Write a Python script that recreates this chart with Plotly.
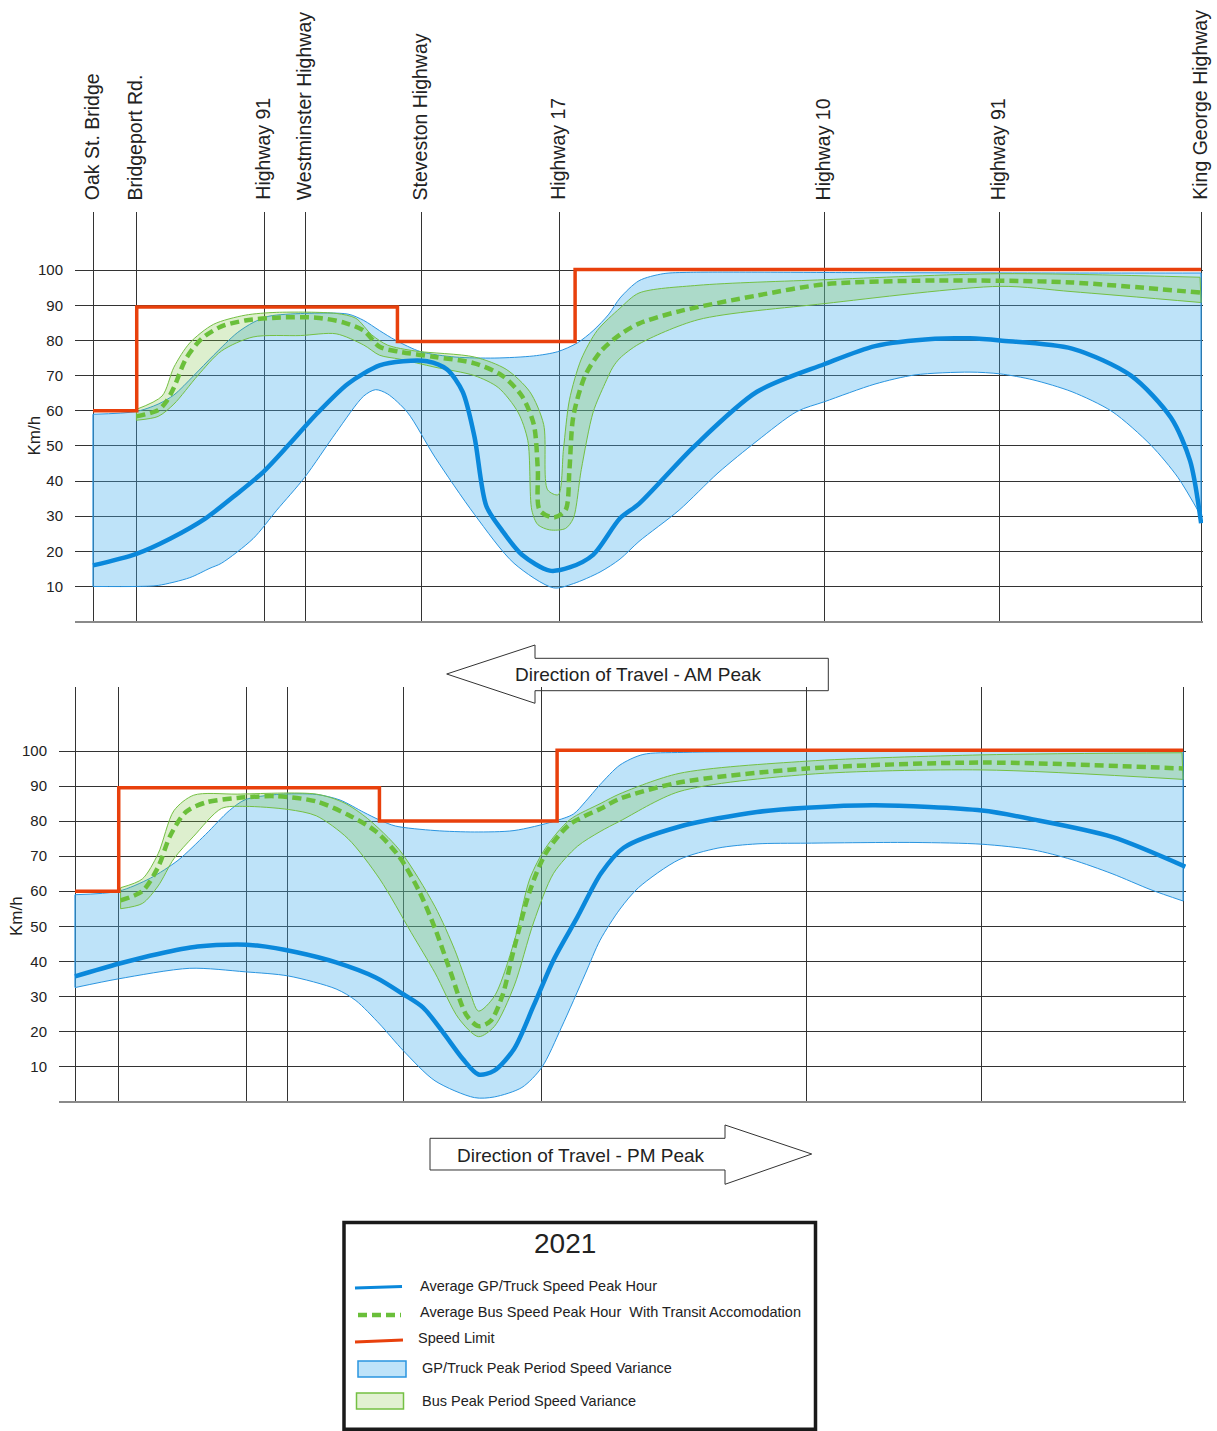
import plotly.graph_objects as go

# ---------------- data ----------------
landmarks = ["Oak St. Bridge", "Bridgeport Rd.", "Highway 91", "Westminster Highway",
             "Steveston Highway", "Highway 17", "Highway 10", "Highway 91", "King George Highway"]
landmark_pos = [0, 3.95, 15.45, 19.2, 29.65, 42.1, 66.1, 81.9, 100.1]

speed_limit_x = [0, 3.95, 27.5, 43.55, 100.1]
am_speed_limit = [60, 89.5, 79.7, 100.2, 100.2]
pm_speed_limit = [60, 89.5, 80, 100.2, 100.2]

# AM peak
am_gp_var_upper_x = [0, 3.92, 5.89, 7.31, 9.10, 10.89, 13.03, 14.46, 15.89, 19.11, 23.04, 24.46, 25.89,
                     27.32, 29.61, 32.7, 36.3, 39.8, 41.96, 43.75, 45.18, 46.60, 47.61, 49.32, 51.5, 54,
                     70, 90, 100.1]
am_gp_var_upper = [59, 59.8, 61.9, 64.5, 70, 75.8, 82.2, 85.1, 86.9, 87.7, 87.5, 85.7, 82.8,
                   80.1, 76.8, 75.3, 75, 75.6, 76.8, 79.3, 82.8, 87.5, 92.1, 97, 99, 99.4,
                   99.3, 99.2, 99.2]
am_gp_var_lower_x = [0, 3.92, 5.89, 8.74, 10.57, 11.60, 14.46, 16.60, 19.11, 21.96, 24.46, 25.53, 26.60,
                     28.39, 30.89, 34.46, 38.03, 41.61, 43.39, 45.8, 47.61, 49.32, 52.94, 56.46, 59.98,
                     63.60, 66.1, 70.64, 74.25, 79.22, 81.93, 84.91, 88.44, 92.05, 95.57, 98.01, 100.1]
am_gp_var_lower = [10, 10, 10.3, 12.5, 15.2, 16.6, 23.6, 31.7, 41, 53.8, 64.2, 66, 64.8,
                   59.6, 46.8, 30.5, 16.6, 9.6, 10.8, 14.1, 17.8, 22.8, 31.7, 42.3, 51.4,
                   59.8, 62.6, 67.6, 70.2, 71, 70.5, 68.8, 65.4, 59.8, 50.2, 41, 30]
am_gp_avg_x = [0, 3.92, 6.96, 10.17, 13.03, 15.42, 17.68, 20.17, 23.04, 25.89, 28.03, 30.17, 31.96,
               33.39, 34.46, 35.53, 36.96, 38.75, 41.25, 43.04, 45.18, 47.61, 49.32, 54.29, 59.98,
               66.1, 70.64, 76.06, 79.22, 81.93, 88.44, 93.77, 97.38, 99.1, 100.1]
am_gp_avg = [16, 19.3, 23.6, 29.4, 36.4, 42.7, 50.3, 59, 67.7, 72.9, 74.1, 74.1, 71.8,
             65.4, 52.6, 32.9, 25.9, 19, 14.5, 15.4, 19, 29.4, 33.5, 49.8, 65.4,
             73.3, 78.4, 80.5, 80.6, 80, 77.7, 70, 58, 45.8, 28]
am_bus_avg_x = [3.92, 5.89, 6.6, 7.31, 8.38, 9.81, 11.60, 13.75, 16.60, 20.17, 22.67, 24.46, 25.89,
                27.68, 30.89, 34.46, 36.96, 38.75, 39.82, 40.18, 40.35, 41.61, 42.68, 43.04, 43.39,
                44.46, 45.89, 47.61, 49.32, 52.94, 59.98, 66.1, 74.25, 81.93, 88.44, 100.1]
am_bus_avg = [58.4, 60.2, 62.5, 66.6, 74.7, 80.5, 84, 85.7, 86.5, 86.5, 85.1, 82.8, 78.2,
              76.8, 75.3, 73.5, 70, 64.2, 56.1, 43.3, 31.7, 29.6, 31.7, 43.3, 58.4,
              70, 77, 81.7, 84.8, 88.3, 92.8, 96, 97, 97, 96.5, 93.6]
am_bus_var_upper_x = [3.92, 6.24, 7.31, 8.74, 10.89, 13.75, 16.60, 21.96, 23.75, 25.18, 26.60, 29.11,
                      34.46, 37.32, 39.46, 40.71, 41.07, 42.03, 42.50, 43.04, 44.11, 45.54, 47.61,
                      49.32, 54.65, 66.1, 81.93, 100.0]
am_bus_var_upper = [60.4, 64.2, 72.4, 79.3, 84.6, 87.2, 88, 87.7, 86.3, 81.6, 78.7, 77,
                    75.3, 71.8, 65.4, 56.1, 37.5, 36.1, 49.1, 63.1, 74.7, 82.8, 89.2,
                    93.5, 95.7, 97.3, 99, 98]
am_bus_var_lower_x = [3.92, 5.89, 7.31, 9.46, 11.60, 14.46, 18.75, 21.96, 24.46, 25.89, 27.68, 30.89,
                      34.46, 36.61, 38.39, 39.28, 39.64, 40.18, 41.25, 42.68, 43.39, 44.11, 45.18,
                      46.24, 46.96, 47.61, 49.32, 54.65, 66.1, 81.93, 88.44, 100.1]
am_bus_var_lower = [57.3, 58.4, 61.9, 70, 77, 81, 81.4, 81.9, 78.7, 75.8, 74.7, 72.4,
                    70, 66.6, 59.6, 51.5, 31.7, 27.6, 26.1, 26.5, 29.4, 43.3, 59.6,
                    67.7, 72.4, 75, 79, 85.9, 90.5, 95.4, 93.9, 90.8]

# PM peak
pm_gp_var_upper_x = [0, 3.94, 6.80, 9.30, 11.80, 13.94, 15.37, 18.23, 21.80, 23.95, 26.09, 27.52, 28.94,
                     32.52, 36.09, 39.66, 43.23, 45.02, 46.09, 47.43, 49.23, 51.3, 55, 100.1]
pm_gp_var_upper = [59, 60, 63.7, 68.8, 76.2, 83, 86.1, 87.6, 87.6, 86, 82.5, 80.3, 78.6,
                   77.3, 76.9, 77.3, 79.9, 82, 85.5, 90.4, 96, 99, 99.6, 99.8]
pm_gp_var_lower_x = [0, 3.94, 10.37, 15.37, 19.30, 23.59, 25.37, 27.52, 29.66, 32.52, 36.09, 37.88, 40.37,
                     42.16, 43.95, 46.09, 47.43, 49.23, 50.9, 54.56, 58.08, 61.61, 66.1, 75.88, 81.93,
                     86.54, 90.06, 93.68, 97.2, 100.1]
pm_gp_var_lower = [32.5, 35, 38, 37, 35.8, 32.1, 28.8, 22.1, 14.5, 5.9, 1.1, 1.3, 4,
                   9.7, 21.2, 36.4, 46, 54.9, 61, 69, 72.3, 73.5, 73.7, 73.9, 73.4,
                   71.8, 69, 65, 60.4, 57.2]
pm_gp_avg_x = [0, 3.94, 7.51, 11.08, 14.65, 16.44, 20.02, 23.59, 27.16, 29.66, 31.45, 33.23, 35.02,
               36.45, 37.88, 39.66, 41.44, 43.23, 45.38, 47.52, 49.56, 54.56, 61.61, 66.1, 72.31,
               81.93, 86.54, 93.68, 100.3]
pm_gp_avg = [35.7, 39.3, 42.1, 44.2, 44.8, 44.5, 42.6, 39.7, 35.4, 30.6, 26.8, 19.8, 12.2,
             7.7, 8.8, 15, 27.4, 40.4, 52.6, 65.1, 72.4, 78.4, 82.6, 83.8, 84.5,
             83, 80.5, 75.5, 67]
pm_bus_avg_x = [4.12, 6.08, 7.51, 8.58, 10.01, 11.80, 14.65, 18.23, 21.80, 24.66, 27.16, 29.30, 31.09,
                32.52, 33.95, 35.37, 36.45, 37.52, 38.59, 39.66, 41.08, 42.52, 44.66, 47.52, 49.23,
                54.56, 66.1, 81.93, 100.1]
pm_bus_avg = [57.4, 60, 66.9, 75.7, 82.6, 85.3, 86.6, 87.1, 85.6, 81.8, 77.1, 69.8, 60,
              49.4, 36.7, 24.6, 21.5, 22.9, 30, 43.6, 60, 70.8, 79, 83.6, 86.4,
              91, 95, 96.7, 95]
pm_bus_var_upper_x = [4.12, 6.08, 7.51, 8.94, 10.73, 14.65, 21.80, 24.31, 26.44, 29.30, 32.52, 34.30,
                      35.6, 36.45, 37.88, 39.66, 41.08, 42.52, 44.66, 47.52, 49.23, 54.56, 66.1,
                      81.93, 100.0]
pm_bus_var_upper = [61, 63.5, 70.7, 83, 87.4, 87.7, 87.7, 85.2, 80.7, 71.8, 55.6, 43.3,
                    32, 25.8, 30, 45.5, 63.5, 72.4, 80.3, 85.1, 87.8, 93.6, 97.1,
                    98.9, 99.5]
pm_bus_var_lower_x = [4.12, 6.08, 7.51, 8.94, 10.73, 13.23, 15.37, 19.30, 21.80, 24.66, 27.52, 30.37,
                      32.52, 34.66, 36.45, 37.88, 39.66, 41.44, 43.23, 45.38, 47.43, 49.23, 54.56,
                      66.1, 81.93, 100.1]
pm_bus_var_lower = [55, 56.5, 61.5, 69.3, 75.7, 83.6, 84.2, 83.3, 81.5, 75, 63.5, 48.2,
                    36.7, 23.7, 18.5, 21.4, 32.9, 51.2, 65.1, 72.8, 77, 80, 88.4,
                    93.3, 94.6, 91.9]

speed_ticks = [10, 20, 30, 40, 50, 60, 70, 80, 90, 100]
legend_year = "2021"
legend_labels = ["Average GP/Truck Speed Peak Hour",
                 "Average Bus Speed Peak Hour  With Transit Accomodation",
                 "Speed Limit",
                 "GP/Truck Peak Period Speed Variance",
                 "Bus Peak Period Speed Variance"]

# ---------------- styles ----------------
W, H = 1217, 1431
FONT = "Liberation Sans, Arial, sans-serif"
TXT = "#222222"
GRID = "#333333"
BLUE_FILL = "rgba(69,175,238,0.35)"
BLUE_EDGE = "#2a95e0"
BLUE_LINE = "#0a88db"
GREEN_FILL = "rgba(120,190,60,0.25)"
GREEN_EDGE = "#74c043"
GREEN_LINE = "#6abf3a"
RED = "#e8400c"
PX_PER_UNIT = 11.07


def fx(p):
    return p / W


def fy(p):
    return 1 - p / H


fig = go.Figure()


def add_panel(xa, ya, gp_lo_x, gp_lo, gp_up_x, gp_up, bus_lo_x, bus_lo, bus_up_x, bus_up,
              gp_x, gp, bus_x, bus, sl):
    common = dict(xaxis=xa, yaxis=ya, showlegend=False, hoverinfo="skip")
    fig.add_trace(go.Scatter(x=gp_lo_x, y=gp_lo, mode="lines",
                             line=dict(color=BLUE_EDGE, width=1, shape="spline", smoothing=0.8), **common))
    fig.add_trace(go.Scatter(x=gp_up_x, y=gp_up, mode="lines", fill="tonexty", fillcolor=BLUE_FILL,
                             line=dict(color=BLUE_EDGE, width=1, shape="spline", smoothing=0.8), **common))
    fig.add_trace(go.Scatter(x=bus_lo_x, y=bus_lo, mode="lines",
                             line=dict(color=GREEN_EDGE, width=1, shape="spline", smoothing=0.8), **common))
    fig.add_trace(go.Scatter(x=bus_up_x, y=bus_up, mode="lines", fill="tonexty", fillcolor=GREEN_FILL,
                             line=dict(color=GREEN_EDGE, width=1, shape="spline", smoothing=0.8), **common))
    fig.add_trace(go.Scatter(x=[gp_up_x[0], gp_lo_x[0], None, gp_up_x[-1], gp_lo_x[-1]],
                             y=[gp_up[0], gp_lo[0], None, gp_up[-1], gp_lo[-1]], mode="lines",
                             line=dict(color=BLUE_EDGE, width=1.2), **common))
    fig.add_trace(go.Scatter(x=[bus_up_x[0], bus_lo_x[0], None, bus_up_x[-1], bus_lo_x[-1]],
                             y=[bus_up[0], bus_lo[0], None, bus_up[-1], bus_lo[-1]], mode="lines",
                             line=dict(color=GREEN_EDGE, width=1), **common))
    fig.add_trace(go.Scatter(x=gp_x, y=gp, mode="lines",
                             line=dict(color=BLUE_LINE, width=4.5, shape="spline", smoothing=0.8), **common))
    fig.add_trace(go.Scatter(x=bus_x, y=bus, mode="lines",
                             line=dict(color=GREEN_LINE, width=4.5, dash="9px,5px", shape="spline",
                                       smoothing=0.8), **common))
    fig.add_trace(go.Scatter(x=speed_limit_x, y=sl, mode="lines",
                             line=dict(color=RED, width=3.5, shape="hv"), **common))


add_panel("x", "y", am_gp_var_lower_x, am_gp_var_lower, am_gp_var_upper_x, am_gp_var_upper,
          am_bus_var_lower_x, am_bus_var_lower, am_bus_var_upper_x, am_bus_var_upper,
          am_gp_avg_x, am_gp_avg, am_bus_avg_x, am_bus_avg, am_speed_limit)
add_panel("x2", "y2", pm_gp_var_lower_x, pm_gp_var_lower, pm_gp_var_upper_x, pm_gp_var_upper,
          pm_bus_var_lower_x, pm_bus_var_lower, pm_bus_var_upper_x, pm_bus_var_upper,
          pm_gp_avg_x, pm_gp_avg, pm_bus_avg_x, pm_bus_avg, pm_speed_limit)

# panel geometry (pixels)
top_oak, top_left, top_right = 93, 75, 1203
bot_oak, bot_left, bot_right = 75, 59, 1186
top_zero, top_top, top_k = 621.6, 212, 3.514
bot_zero, bot_top, bot_k = 1101.5, 687, 3.505
pad = 0.5

yaxis_common = dict(tickvals=speed_ticks, ticktext=[str(v) for v in speed_ticks],
                    showgrid=True, gridcolor=GRID, gridwidth=1, ticks="",
                    zeroline=True, zerolinecolor="#8a8a8a", zerolinewidth=2,
                    showline=False, ticklabelstandoff=11,
                    tickfont=dict(family=FONT, size=15, color=TXT), fixedrange=True)
xaxis_common = dict(tickvals=landmark_pos, showgrid=True, gridcolor=GRID, gridwidth=1,
                    ticks="", zeroline=False, showline=False, fixedrange=True,
                    showticklabels=False)

fig.update_layout(
    width=W, height=H, margin=dict(l=0, r=0, t=0, b=0),
    paper_bgcolor="white", plot_bgcolor="rgba(0,0,0,0)", showlegend=False,
    xaxis=dict(domain=[fx(top_left), fx(top_right)],
               range=[(top_left - top_oak) / PX_PER_UNIT, (top_right - top_oak) / PX_PER_UNIT],
               side="top", anchor="y", **xaxis_common),
    yaxis=dict(domain=[fy(top_zero + pad * top_k), fy(top_top)],
               range=[-pad, (top_zero - top_top) / top_k], anchor="x", **yaxis_common),
    xaxis2=dict(domain=[fx(bot_left), fx(bot_right)],
                range=[(bot_left - bot_oak) / PX_PER_UNIT, (bot_right - bot_oak) / PX_PER_UNIT],
                anchor="y2", **xaxis_common),
    yaxis2=dict(domain=[fy(bot_zero + pad * bot_k), fy(bot_top)],
                range=[-pad, (bot_zero - bot_top) / bot_k], anchor="x2", **yaxis_common),
)

shapes = []
annotations = []

# landmark labels above the top panel (rotated)
for pos, name in zip(landmark_pos, landmarks):
    annotations.append(dict(text=name, x=pos - 0.12, xref="x", y=fy(201), yref="paper",
                            showarrow=False, textangle=-90, xanchor="center", yanchor="bottom",
                            borderpad=0, font=dict(family=FONT, size=19.5, color=TXT)))


def path(points):
    s = "M " + " L ".join(f"{fx(x):.5f},{fy(y):.5f}" for x, y in points) + " Z"
    return s


# direction arrows
shapes.append(dict(type="path", xref="paper", yref="paper", layer="above",
                   path=path([(828.3, 658.3), (535, 658.3), (535, 645), (446.7, 674), (535, 703.3),
                              (535, 690.7), (828.3, 690.7)]),
                   line=dict(color="#333333", width=1)))
shapes.append(dict(type="path", xref="paper", yref="paper", layer="above",
                   path=path([(430, 1138.3), (725, 1138.3), (725, 1125), (811.7, 1154), (725, 1184.3),
                              (725, 1170), (430, 1170)]),
                   line=dict(color="#333333", width=1)))
annotations.append(dict(text="Direction of Travel - AM Peak", x=fx(638.7), y=fy(674), xref="paper",
                        yref="paper", showarrow=False, xanchor="center", yanchor="middle",
                        font=dict(family=FONT, size=19, color=TXT)))
annotations.append(dict(text="Direction of Travel - PM Peak", x=fx(580.5), y=fy(1155), xref="paper",
                        yref="paper", showarrow=False, xanchor="center", yanchor="middle",
                        font=dict(family=FONT, size=19, color=TXT)))

# axis titles
for xx, yy in [(33.5, 436), (16, 916)]:
    annotations.append(dict(text="Km/h", x=fx(xx), y=fy(yy), xref="paper", yref="paper",
                            showarrow=False, textangle=-90, xanchor="center", yanchor="middle",
                            font=dict(family=FONT, size=17, color=TXT)))

# legend box
shapes.append(dict(type="rect", xref="paper", yref="paper", x0=fx(344), x1=fx(815.5), y0=fy(1222.5),
                   y1=fy(1429.3), line=dict(color="#1a1a1a", width=3.5), fillcolor="white", layer="above"))
annotations.append(dict(text=legend_year, x=fx(565), y=fy(1243), xref="paper", yref="paper",
                        showarrow=False, xanchor="center", yanchor="middle",
                        font=dict(family=FONT, size=28, color=TXT)))
shapes.append(dict(type="line", xref="paper", yref="paper", x0=fx(355), x1=fx(402), y0=fy(1288),
                   y1=fy(1286.5), line=dict(color=BLUE_LINE, width=3), layer="above"))
shapes.append(dict(type="line", xref="paper", yref="paper", x0=fx(358), x1=fx(401), y0=fy(1315),
                   y1=fy(1315), line=dict(color=GREEN_LINE, width=4.5, dash="9px,5px"), layer="above"))
shapes.append(dict(type="line", xref="paper", yref="paper", x0=fx(355), x1=fx(403), y0=fy(1342),
                   y1=fy(1340), line=dict(color=RED, width=3), layer="above"))
shapes.append(dict(type="rect", xref="paper", yref="paper", x0=fx(358), x1=fx(406), y0=fy(1361),
                   y1=fy(1377), line=dict(color=BLUE_EDGE, width=1.5), fillcolor="rgb(190,227,249)",
                   layer="above"))
shapes.append(dict(type="rect", xref="paper", yref="paper", x0=fx(356.5), x1=fx(403.5), y0=fy(1393),
                   y1=fy(1409), line=dict(color=GREEN_EDGE, width=1.5), fillcolor="rgb(226,241,210)",
                   layer="above"))
legend_pos = [(418, 1286), (418, 1312), (416, 1338), (420, 1368), (420, 1401)]
for (lx, ly), lab in zip(legend_pos, legend_labels):
    annotations.append(dict(text=lab, x=fx(lx), y=fy(ly), xref="paper", yref="paper",
                            showarrow=False, xanchor="left", yanchor="middle",
                            font=dict(family=FONT, size=14.5, color=TXT)))

fig.update_layout(shapes=shapes, annotations=annotations)
fig.write_html("out.html", config={"displayModeBar": False},
               post_script="document.body.style.margin='0';")
